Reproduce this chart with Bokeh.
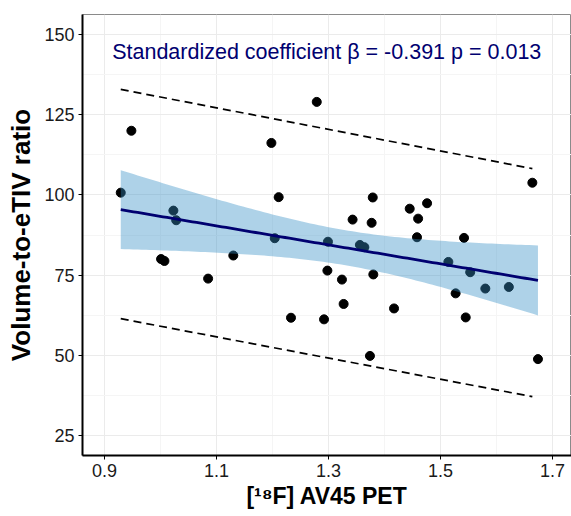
import numpy as np
from bokeh.plotting import figure
from bokeh.models import FixedTicker, Range1d, Label
from bokeh.embed import file_html
from bokeh.resources import INLINE

# ---- data ----
pet = [0.929, 0.948, 1.023, 1.028, 1.001, 1.007, 1.085, 1.130, 1.279, 1.198,
       1.211, 1.379, 1.445, 1.476, 1.460, 1.664, 1.343, 1.377, 1.204, 1.299,
       1.356, 1.364, 1.298, 1.324, 1.380, 1.327, 1.233, 1.292, 1.417, 1.374,
       1.458, 1.542, 1.514, 1.553, 1.580, 1.622, 1.527, 1.545, 1.674]
ratio = [100.7, 120.0, 95.1, 92.1, 80.0, 79.4, 73.9, 81.1, 129.0, 116.2,
         99.3, 99.2, 95.7, 97.4, 92.6, 103.8, 92.3, 91.3, 86.5, 85.4,
         84.4, 83.7, 76.4, 73.6, 75.2, 66.0, 61.7, 61.2, 64.6, 49.8,
         86.8, 86.6, 79.1, 75.9, 70.8, 71.3, 69.3, 61.8, 48.8]

# prediction-interval (dashed) line ends
pi_x = [0.929, 1.664]
pi_upper = [132.9, 108.2]
pi_lower = [61.4, 37.1]

x_ticks = [0.9, 1.1, 1.3, 1.5, 1.7]
x_minor = [1.0, 1.2, 1.4, 1.6]
y_ticks = [25, 50, 75, 100, 125, 150]
y_minor = [37.5, 62.5, 87.5, 112.5, 137.5]

annotation = "Standardized coefficient \u03b2 = -0.391 p = 0.013"

# ---- linear fit with 95% confidence band ----
xa = np.array(pet)
ya = np.array(ratio)
n = len(xa)
b1, b0 = np.polyfit(xa, ya, 1)
xs = np.linspace(xa.min(), xa.max(), 100)
yhat = b0 + b1 * xs
res = ya - (b0 + b1 * xa)
s = np.sqrt(np.sum(res ** 2) / (n - 2))
xm = xa.mean()
sxx = np.sum((xa - xm) ** 2)
tval = 2.026
se = s * np.sqrt(1.0 / n + (xs - xm) ** 2 / sxx)
lo = yhat - tval * se
hi = yhat + tval * se

FONT = "Liberation Sans"
NAVY = "#000070"

p = figure(width=571, height=516, output_backend="svg", toolbar_location=None,
           x_range=Range1d(0.8607, 1.7339), y_range=Range1d(18.75, 156.25),
           min_border_left=82, min_border_top=14, min_border_right=0,
           min_border_bottom=61)
p.background_fill_color = "white"
p.border_fill_color = "white"
p.outline_line_color = "#8a8a8a"
p.outline_line_width = 1

# points (drawn below the band)
p.scatter(pet, ratio, size=9, fill_color="black", line_color="black")
# confidence band
p.varea(x=xs, y1=lo, y2=hi, fill_color=(52, 143, 197), fill_alpha=0.4)
# fit line
p.line(xs, yhat, line_color=NAVY, line_width=2.8)
# prediction interval lines
p.line(pi_x, pi_upper, line_color="black", line_width=1.7, line_dash="8 5")
p.line(pi_x, pi_lower, line_color="black", line_width=1.7, line_dash="8 5")

p.add_layout(Label(x=0.9137, y=144.6, text=annotation, text_font=FONT,
                   text_font_size="21.5px", text_color=NAVY,
                   text_baseline="alphabetic", text_align="left"))

# grids
p.xgrid.ticker = FixedTicker(ticks=x_ticks, minor_ticks=x_minor)
p.ygrid.ticker = FixedTicker(ticks=y_ticks, minor_ticks=y_minor)
for g in (p.xgrid, p.ygrid):
    g.grid_line_color = "#ebebeb"
    g.grid_line_width = 1
    g.minor_grid_line_color = "#f5f5f5"
    g.minor_grid_line_width = 1

# axes
p.xaxis.ticker = FixedTicker(ticks=x_ticks, minor_ticks=[])
p.yaxis.ticker = FixedTicker(ticks=y_ticks, minor_ticks=[])
p.xaxis.major_label_overrides = {0.9: "0.9", 1.1: "1.1", 1.3: "1.3", 1.5: "1.5", 1.7: "1.7"}
for ax in (p.xaxis, p.yaxis):
    ax.axis_line_color = "black"
    ax.axis_line_width = 2
    ax.major_tick_line_color = "black"
    ax.major_tick_line_width = 1
    ax.major_tick_out = 4
    ax.major_tick_in = 0
    ax.minor_tick_line_color = None
    ax.major_label_text_font = FONT
    ax.major_label_text_font_size = "18px"
    ax.major_label_text_color = "#1a1a1a"
    ax.axis_label_text_font = FONT
    ax.axis_label_text_font_style = "bold"
    ax.axis_label_text_color = "black"

p.xaxis.axis_label = "[\u00b9\u2078F] AV45 PET"
p.xaxis.axis_label_text_font_size = "23px"
p.xaxis.major_label_standoff = 4
p.xaxis.axis_label_standoff = 3
p.yaxis.axis_label = "Volume-to-eTIV ratio"
p.yaxis.axis_label_text_font_size = "26px"
p.yaxis.major_label_standoff = 4
p.yaxis.axis_label_standoff = 5

open("out.html", "w").write(file_html(p, INLINE))
